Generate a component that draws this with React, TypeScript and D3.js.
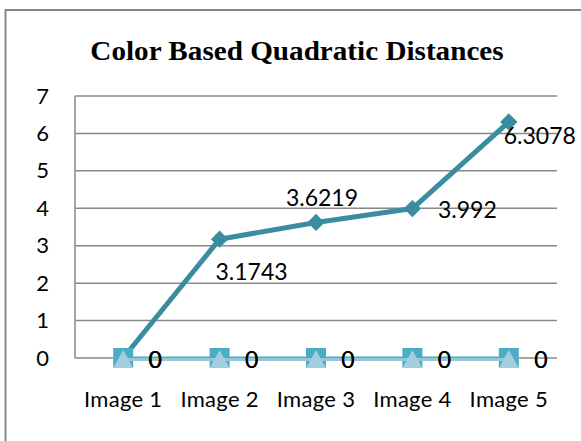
import React from "react";
import * as d3 from "d3";

const title = "Color Based Quadratic Distances";
const categories = ["Image 1", "Image 2", "Image 3", "Image 4", "Image 5"];
const distances = [0, 3.1743, 3.6219, 3.992, 6.3078];
const seriesSquares = [0, 0, 0, 0, 0];
const seriesTriangles = [0, 0, 0, 0, 0];
const yTicks = [0, 1, 2, 3, 4, 5, 6, 7];
// label text-centre offsets from each point (style)
const mainLabelOffsets: [number, number][] = [[32, 2], [32, 33], [6, -25], [55, 1.5], [31, 13.6]];
const zeroLabelOffset: [number, number] = [32, 2];

const W = 581;
const H = 441;
const plot = { left: 75, right: 557, top: 96, bottom: 358 };

const C_MAIN = "#3A8DA1";
const C_SQ = "#4BACC6";
const C_TRI = "#A3CEDE";
const C_TRI_LINE = "#95C7D8";
const C_GRID = "#888888";

const sans = "Lato, 'Liberation Sans', sans-serif";

export default function App() {
  const x = d3.scalePoint<string>().domain(categories).range([plot.left, plot.right]).padding(0.5);
  const y = d3.scaleLinear().domain([0, 7]).range([plot.bottom, plot.top]);
  const line = d3
    .line<number>()
    .x((_, i) => x(categories[i]) as number)
    .y((d) => y(d));

  const diamond = d3.symbol().type(d3.symbolSquare).size(150)();
  const tri = (cx: number, cy: number) =>
    `M${cx},${cy - 9}L${cx + 10},${cy + 9}L${cx - 10},${cy + 9}Z`;

  const labelFont = { fontFamily: sans, fontSize: 23, fill: "#000" };

  return (
    <svg width={W} height={H} style={{ position: "absolute", left: 0, top: 0, background: "#fff" }}>
      <rect x={5.5} y={10} width={700} height={600} fill="#fff" stroke={C_GRID} strokeWidth={2} />
      <text
        x={297}
        y={60}
        textAnchor="middle"
        style={{ fontFamily: "'Liberation Serif', 'Times New Roman', serif", fontWeight: 700, fontSize: 27 }}
        transform={`translate(297,0) scale(1.08,1) translate(-297,0)`}
      >
        {title}
      </text>
      {yTicks.map((t) => (
        <g key={t}>
          <line x1={plot.left} x2={plot.right} y1={y(t)} y2={y(t)} stroke={C_GRID} strokeWidth={1.5} />
          <text x={49} y={y(t) + 7.5} textAnchor="end" style={{ fontFamily: sans, fontSize: 22 }}>
            {t}
          </text>
        </g>
      ))}
      <line x1={plot.left} x2={plot.left} y1={plot.top} y2={plot.bottom} stroke={C_GRID} strokeWidth={1.5} />
      {categories.map((c) => (
        <text
          key={c}
          x={x(c)}
          y={407}
          textAnchor="middle"
          style={{ fontFamily: sans, fontSize: 22, letterSpacing: 0.3 }}
        >
          {c}
        </text>
      ))}
      <path d={line(distances) as string} fill="none" stroke={C_MAIN} strokeWidth={5} strokeLinejoin="round" />
      {distances.map((d, i) => (
        <path
          key={i}
          d={diamond as string}
          transform={`translate(${x(categories[i])},${y(d)}) rotate(45)`}
          fill={C_MAIN}
        />
      ))}
      <path d={line(seriesSquares) as string} fill="none" stroke={C_SQ} strokeWidth={3} />
      {seriesSquares.map((d, i) => (
        <rect key={i} x={(x(categories[i]) as number) - 10} y={y(d) - 10} width={20} height={20} fill={C_SQ} />
      ))}
      <path
        d={line(seriesTriangles) as string}
        fill="none"
        stroke={C_TRI_LINE}
        strokeWidth={3}
        transform="translate(0,1.5)"
      />
      {seriesTriangles.map((d, i) => (
        <path key={i} d={tri(x(categories[i]) as number, y(d) + 1)} fill={C_TRI} />
      ))}
      {distances.map((d, i) => (
        <text
          key={i}
          x={(x(categories[i]) as number) + mainLabelOffsets[i][0]}
          y={y(d) + mainLabelOffsets[i][1] + 8.3}
          textAnchor="middle"
          style={labelFont}
        >
          {d}
        </text>
      ))}
      {seriesSquares.map((d, i) => (
        <text
          key={"s" + i}
          x={(x(categories[i]) as number) + zeroLabelOffset[0]}
          y={y(d) + zeroLabelOffset[1] + 8.3}
          textAnchor="middle"
          style={labelFont}
        >
          {d}
        </text>
      ))}
      {seriesTriangles.map((d, i) => (
        <text
          key={"t" + i}
          x={(x(categories[i]) as number) + zeroLabelOffset[0]}
          y={y(d) + zeroLabelOffset[1] + 8.3}
          textAnchor="middle"
          style={labelFont}
        >
          {d}
        </text>
      ))}
    </svg>
  );
}
